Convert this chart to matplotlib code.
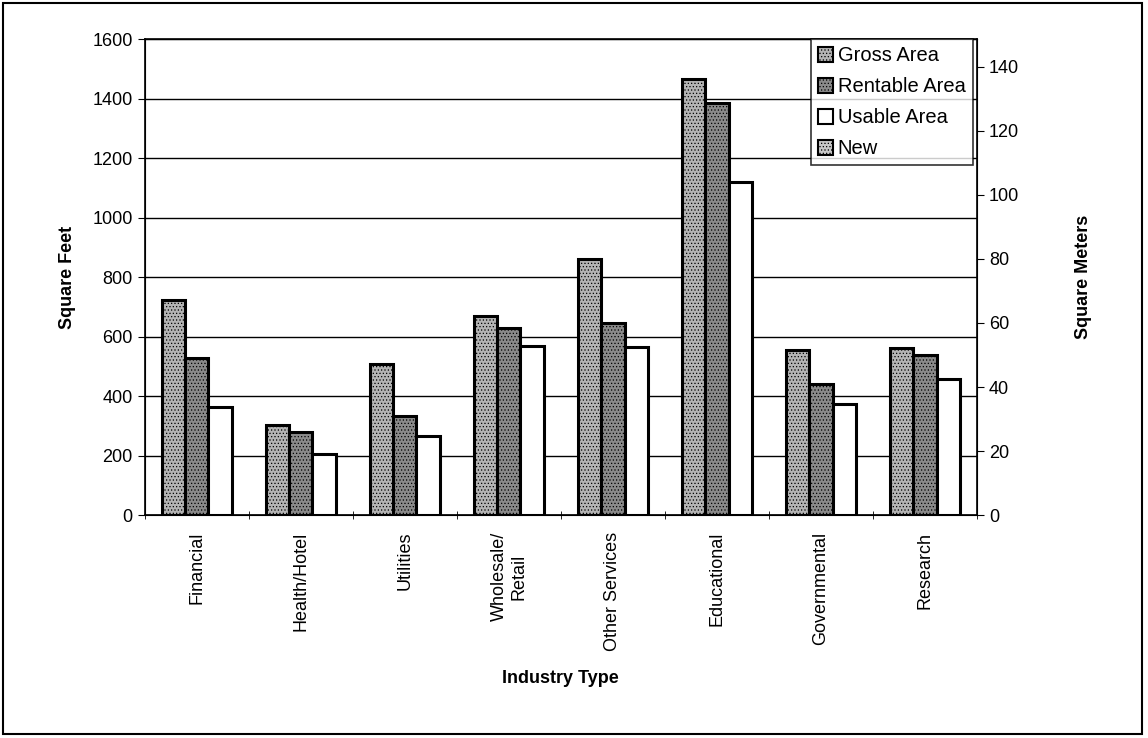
import matplotlib
matplotlib.use('Agg')
import matplotlib.pyplot as plt
import matplotlib.patches as mpatches
import numpy as np

plt.rcParams['font.family'] = ['Liberation Sans', 'DejaVu Sans']
plt.rcParams['hatch.linewidth'] = 0.5

# data (square feet)
industries = ['Financial', 'Health/Hotel', 'Utilities', 'Wholesale/\nRetail',
              'Other Services', 'Educational', 'Governmental', 'Research']
gross = [722, 302, 508, 668, 860, 1465, 555, 562]
rentable = [527, 280, 332, 630, 647, 1385, 440, 538]
usable = [365, 205, 265, 568, 565, 1120, 375, 457]

fig = plt.figure(figsize=(11.48, 7.38), dpi=100)
ax = fig.add_axes([0.126, 0.302, 0.725, 0.645])

x = np.arange(len(industries))
w = 0.225
ax.bar(x - w, gross, w, color='#b4b4b4', edgecolor='black', linewidth=2.2, hatch='.....', zorder=3)
ax.bar(x, rentable, w, color='#8a8a8a', edgecolor='black', linewidth=2.2, hatch='.....', zorder=3)
ax.bar(x + w, usable, w, color='white', edgecolor='black', linewidth=2.2, zorder=3)

ax.set_xlim(-0.5, len(industries) - 0.5)
ax.set_ylim(0, 1600)
ax.set_yticks(range(0, 1601, 200))
ax.yaxis.grid(True, color='black', linewidth=1)
ax.set_axisbelow(True)
ax.set_xticks(x)
ax.set_xticklabels(industries, rotation=90, fontsize=13)
ax.tick_params(axis='x', length=0, pad=12)
ax.set_xticks(np.arange(-0.5, len(industries), 1), minor=True)
ax.tick_params(axis='x', which='minor', length=6, direction='inout')
ax.tick_params(axis='y', labelsize=13, direction='out', length=5)
ax.set_ylabel('Square Feet', fontsize=13, fontweight='bold', labelpad=12)
ax.set_xlabel('Industry Type', fontsize=13, fontweight='bold', labelpad=14)
for s in ax.spines.values():
    s.set_linewidth(1.2)

ax2 = ax.twinx()
ax2.set_ylim(0, 1600 * 0.0929)
ax2.set_yticks(range(0, 141, 20))
ax2.tick_params(axis='y', labelsize=13, direction='out', length=5)
ax2.set_ylabel('Square Meters', fontsize=13, fontweight='bold', labelpad=40)

handles = [
    mpatches.Patch(facecolor='#b4b4b4', edgecolor='black', hatch='.....', linewidth=1.5, label='Gross Area'),
    mpatches.Patch(facecolor='#8a8a8a', edgecolor='black', hatch='.....', linewidth=1.5, label='Rentable Area'),
    mpatches.Patch(facecolor='white', edgecolor='black', linewidth=1.5, label='Usable Area'),
    mpatches.Patch(facecolor='#c8c8c8', edgecolor='black', hatch='.....', linewidth=1.5, label='New'),
]
leg = ax2.legend(handles=handles, loc='upper right', bbox_to_anchor=(0.995, 1.0),
                 fontsize=14.5, frameon=True, fancybox=False, edgecolor='black',
                 handlelength=0.75, handleheight=0.75, handletextpad=0.25,
                 labelspacing=0.6, borderpad=0.35, borderaxespad=0.0)
leg.get_frame().set_linewidth(1.2)
leg.set_zorder(10)

# border round whole picture
fig.patches.append(mpatches.Rectangle((0.003, 0.006), 0.992, 0.99, transform=fig.transFigure,
                                      fill=False, edgecolor='black', linewidth=1.5))

fig.savefig('out.png', dpi=100)
